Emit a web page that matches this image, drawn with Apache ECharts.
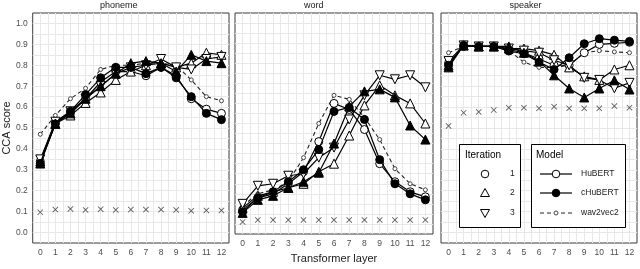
<!DOCTYPE html>
<html><head><meta charset="utf-8">
<script src="https://cdn.jsdelivr.net/npm/echarts@6/dist/echarts.min.js"></script>
<style>html,body{margin:0;padding:0;background:#fff}#c{width:640px;height:269px}</style>
</head><body><div id="c"></div>
<script>
const layers = [0,1,2,3,4,5,6,7,8,9,10,11,12];
const panels = ['phoneme','word','speaker'];
const yTicks = [0.0,0.1,0.2,0.3,0.4,0.5,0.6,0.7,0.8,0.9,1.0];

// phoneme
const phonBase = [0.097,0.11,0.113,0.108,0.112,0.108,0.11,0.11,0.11,0.108,0.104,0.106,0.106];
const phonW2v  = [0.47,0.56,0.64,0.69,0.78,0.80,0.80,0.81,0.81,0.80,0.73,0.65,0.63];
const phonHu1  = [0.34,0.53,0.57,0.64,0.72,0.77,0.77,0.75,0.79,0.75,0.64,0.59,0.57];
const phonHu2  = [0.34,0.52,0.56,0.62,0.67,0.73,0.77,0.80,0.81,0.79,0.81,0.86,0.85];
const phonHu3  = [0.35,0.53,0.58,0.64,0.70,0.76,0.79,0.80,0.83,0.79,0.78,0.83,0.84];
const phonCh1  = [0.33,0.52,0.58,0.66,0.74,0.79,0.79,0.76,0.79,0.74,0.65,0.57,0.54];
const phonCh2  = [0.33,0.52,0.57,0.64,0.70,0.76,0.81,0.82,0.81,0.77,0.85,0.82,0.81];

// word
const wordBase = [0.01,0.02,0.02,0.02,0.02,0.02,0.02,0.02,0.02,0.02,0.02,0.02,0.02];
const wordW2v  = [0.09,0.15,0.17,0.21,0.33,0.50,0.64,0.62,0.53,0.42,0.275,0.20,0.17];
const wordHu1  = [0.07,0.13,0.15,0.20,0.26,0.41,0.60,0.57,0.47,0.30,0.21,0.16,0.135];
const wordHu2  = [0.08,0.14,0.16,0.18,0.20,0.26,0.30,0.44,0.59,0.69,0.64,0.60,0.50];
const wordHu3  = [0.10,0.19,0.20,0.24,0.25,0.33,0.38,0.52,0.64,0.74,0.72,0.74,0.68];
const wordCh1  = [0.06,0.13,0.16,0.21,0.27,0.37,0.56,0.58,0.52,0.32,0.20,0.15,0.12];
const wordCh2  = [0.055,0.12,0.14,0.18,0.21,0.255,0.40,0.585,0.66,0.67,0.63,0.49,0.42];

// speaker
const spkBase = [0.51,0.573,0.577,0.586,0.597,0.597,0.594,0.602,0.594,0.594,0.594,0.605,0.597];
const spkW2v  = [0.86,0.89,0.89,0.89,0.87,0.815,0.79,0.79,0.80,0.86,0.87,0.864,0.86];
const spkHu1  = [0.81,0.89,0.89,0.89,0.875,0.86,0.83,0.80,0.80,0.86,0.90,0.905,0.91];
const spkHu2  = [0.80,0.895,0.89,0.89,0.88,0.88,0.87,0.85,0.79,0.747,0.73,0.78,0.80];
const spkHu3  = [0.82,0.895,0.89,0.89,0.88,0.87,0.86,0.824,0.80,0.74,0.73,0.69,0.716];
const spkCh1  = [0.80,0.895,0.89,0.89,0.868,0.855,0.815,0.78,0.836,0.903,0.927,0.92,0.914];
const spkCh2  = [0.79,0.895,0.89,0.89,0.89,0.86,0.82,0.752,0.689,0.646,0.689,0.728,0.684];

const panelData = [
  {base: phonBase, w2v: phonW2v, hu: [phonHu1, phonHu2, phonHu3], ch: [phonCh1, phonCh2]},
  {base: wordBase, w2v: wordW2v, hu: [wordHu1, wordHu2, wordHu3], ch: [wordCh1, wordCh2]},
  {base: spkBase,  w2v: spkW2v,  hu: [spkHu1, spkHu2, spkHu3],   ch: [spkCh1, spkCh2]}
];

const FONT = '"Liberation Sans", Arial, sans-serif';
const gridLefts = [31, 235, 441];
const gridWidths = [198, 198, 197];
const GT = 13, GH = 230;
const crossPath = 'path://M0,1 L1,0 L5,4 L9,0 L10,1 L6,5 L10,9 L9,10 L5,6 L1,10 L0,9 L4,5 Z';
const iterSymbols = [
  {symbol: 'circle', size: 8, rotate: 0},
  {symbol: 'triangle', size: 9, rotate: 0},
  {symbol: 'triangle', size: 9, rotate: 180}
];

const grids = [], xAxes = [], yAxes = [], series = [];
const pair = arr => layers.map((l, i) => [l, arr[i]]);

panels.forEach((p, k) => {
  grids.push({left: gridLefts[k], top: GT, width: gridWidths[k], height: GH, show: true,
    borderColor: '#3a3a3a', borderWidth: 1, backgroundColor: '#fff', z: 0});
  xAxes.push({type: 'value', gridIndex: k, min: -0.5, max: 12.5, interval: 0.5,
    axisLine: {show: false}, axisTick: {show: false},
    splitLine: {show: true, showMinLine: false, showMaxLine: false, lineStyle: {color: '#e8e8e8', width: 1}},
    axisLabel: {show: true, margin: 5, fontSize: 8.5, color: '#4d4d4d', fontFamily: FONT,
      formatter: v => (Math.abs(v - Math.round(v)) < 1e-6 && v >= 0 && v <= 12) ? String(Math.round(v)) : ''},
    name: k === 1 ? 'Transformer layer' : '', nameLocation: 'middle', nameGap: 19,
    nameTextStyle: {fontSize: 11, color: '#1a1a1a', fontFamily: FONT}
  });
  yAxes.push({type: 'value', gridIndex: k, min: -0.05, max: 1.05, interval: 0.05,
    axisLine: {show: false}, axisTick: {show: false},
    splitLine: {show: true, showMinLine: false, showMaxLine: false, lineStyle: {color: '#e8e8e8', width: 1}},
    axisLabel: {show: k === 0, margin: 5, fontSize: 8.5, color: '#4d4d4d', fontFamily: FONT,
      formatter: v => {
        const r = Math.round(v * 100);
        if (r % 10 !== 0 || r < 0 || r > 100) return '';
        return (r / 100).toFixed(1);
      }},
    name: k === 0 ? 'CCA score' : '', nameLocation: 'middle', nameGap: 20,
    nameTextStyle: {fontSize: 11, color: '#1a1a1a', fontFamily: FONT}
  });

  const d = panelData[k];
  series.push({type: 'scatter', xAxisIndex: k, yAxisIndex: k, data: pair(d.base),
    symbol: crossPath, symbolSize: 6, itemStyle: {color: '#333'}, z: 2, silent: true});
  series.push({type: 'line', xAxisIndex: k, yAxisIndex: k, data: pair(d.w2v),
    symbol: 'circle', symbolSize: 4, showAllSymbol: true,
    lineStyle: {color: '#222', width: 1.1, type: [4, 3]},
    itemStyle: {color: '#fff', borderColor: '#444', borderWidth: 1}, z: 3, silent: true});
  d.hu.forEach((arr, i) => {
    const s = iterSymbols[i];
    series.push({type: 'line', xAxisIndex: k, yAxisIndex: k, data: pair(arr),
      symbol: s.symbol, symbolSize: s.size, symbolRotate: s.rotate, showAllSymbol: true,
      lineStyle: {color: '#000', width: 1.2},
      itemStyle: {color: '#fff', borderColor: '#000', borderWidth: 1}, z: 4, silent: true});
  });
  d.ch.forEach((arr, i) => {
    const s = iterSymbols[i];
    series.push({type: 'line', xAxisIndex: k, yAxisIndex: k, data: pair(arr),
      symbol: s.symbol, symbolSize: s.size, symbolRotate: s.rotate, showAllSymbol: true,
      lineStyle: {color: '#000', width: 1.2},
      itemStyle: {color: '#000', borderColor: '#000', borderWidth: 1}, z: 5, silent: true});
  });
});

// strip titles
const graphics = [];
panels.forEach((p, k) => {
  graphics.push({type: 'text', left: gridLefts[k] + gridWidths[k] / 2 - 30, top: 1,
    style: {text: p, font: '9px ' + FONT, fill: '#1a1a1a', width: 60, align: 'center'},
    z: 10});
});
// legends
const legendStyle = {fill: '#fff', stroke: '#000', lineWidth: 1};
graphics.push({type: 'rect', shape: {x: 459.5, y: 144.5, width: 61, height: 83}, style: legendStyle, z: 20});
graphics.push({type: 'text', x: 465, y: 150, style: {text: 'Iteration', font: '10px ' + FONT, fill: '#000'}, z: 21});
const rowsY = [174, 193, 213];
const iterLabels = ['1', '2', '3'];
graphics.push({type: 'circle', shape: {cx: 485, cy: rowsY[0], r: 3.8}, style: {fill: '#fff', stroke: '#000', lineWidth: 1}, z: 21});
graphics.push({type: 'polygon', shape: {points: [[485, rowsY[1] - 4.5], [489.5, rowsY[1] + 3.5], [480.5, rowsY[1] + 3.5]]}, style: {fill: '#fff', stroke: '#000', lineWidth: 1}, z: 21});
graphics.push({type: 'polygon', shape: {points: [[485, rowsY[2] + 4.5], [489.5, rowsY[2] - 3.5], [480.5, rowsY[2] - 3.5]]}, style: {fill: '#fff', stroke: '#000', lineWidth: 1}, z: 21});
iterLabels.forEach((t, i) => graphics.push({type: 'text', x: 510, y: rowsY[i] - 4.5, style: {text: t, font: '8.5px ' + FONT, fill: '#1a1a1a'}, z: 21}));

graphics.push({type: 'rect', shape: {x: 531.5, y: 144.5, width: 94, height: 83}, style: legendStyle, z: 20});
graphics.push({type: 'text', x: 536, y: 150, style: {text: 'Model', font: '10px ' + FONT, fill: '#000'}, z: 21});
const modelLabels = ['HuBERT', 'cHuBERT', 'wav2vec2'];
graphics.push({type: 'line', shape: {x1: 540, y1: rowsY[0], x2: 572, y2: rowsY[0]}, style: {stroke: '#000', lineWidth: 1.2}, z: 21});
graphics.push({type: 'line', shape: {x1: 540, y1: rowsY[1], x2: 572, y2: rowsY[1]}, style: {stroke: '#000', lineWidth: 1.2}, z: 21});
graphics.push({type: 'line', shape: {x1: 540, y1: rowsY[2], x2: 572, y2: rowsY[2]}, style: {stroke: '#222', lineWidth: 1.1, lineDash: [4, 3]}, z: 21});
graphics.push({type: 'circle', shape: {cx: 556, cy: rowsY[0], r: 3.8}, style: {fill: '#fff', stroke: '#000', lineWidth: 1}, z: 22});
graphics.push({type: 'circle', shape: {cx: 556, cy: rowsY[1], r: 3.8}, style: {fill: '#000', stroke: '#000', lineWidth: 1}, z: 22});
graphics.push({type: 'circle', shape: {cx: 556, cy: rowsY[2], r: 2}, style: {fill: '#fff', stroke: '#444', lineWidth: 1}, z: 22});
modelLabels.forEach((t, i) => graphics.push({type: 'text', x: 581, y: rowsY[i] - 4.5, style: {text: t, font: '8.5px ' + FONT, fill: '#1a1a1a'}, z: 21}));

const chart = echarts.init(document.getElementById('c'), null, {renderer: 'canvas'});
chart.setOption({
  animation: false,
  backgroundColor: '#fff',
  grid: grids, xAxis: xAxes, yAxis: yAxes, series: series,
  graphic: graphics
});
</script></body></html>
